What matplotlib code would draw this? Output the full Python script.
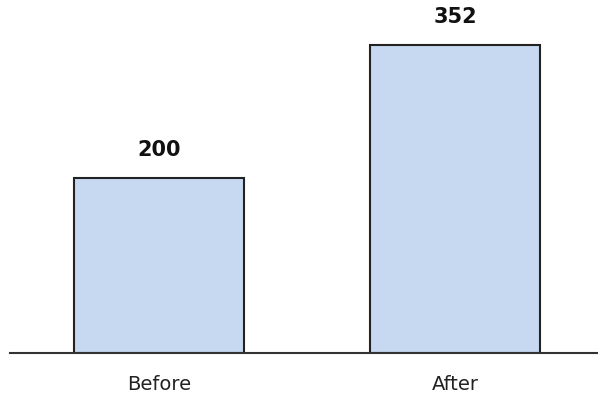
import matplotlib
matplotlib.use("Agg")
import matplotlib.pyplot as plt

categories = ["Before", "After"]
values = [200, 352]

fig = plt.figure(figsize=(5.98, 3.95), dpi=100)
ax = fig.add_axes([10 / 598, 42.3 / 395, 588 / 598, 352.7 / 395])

x = list(range(len(categories)))
bars = ax.bar(x, values, width=0.574, color="#c6d9f0", edgecolor="#222222", linewidth=1.5, zorder=2)

for xi, v in zip(x, values):
    ax.annotate(str(v), (xi, v), xytext=(0, 20), textcoords="offset points",
                ha="center", va="center", fontsize=15, fontweight="bold", color="#111111")

ax.set_xlim(-0.503, 1.483)
ax.set_ylim(0, 403)
ax.set_xticks(x)
ax.set_xticklabels(categories, fontsize=14, color="#222222")
ax.tick_params(axis="x", length=0, pad=16)
ax.set_yticks([])
for s in ["top", "left", "right"]:
    ax.spines[s].set_visible(False)
ax.spines["bottom"].set_color("#333333")
ax.spines["bottom"].set_linewidth(1.5)
ax.spines["bottom"].set_zorder(3)

fig.savefig("out.png", dpi=100)
